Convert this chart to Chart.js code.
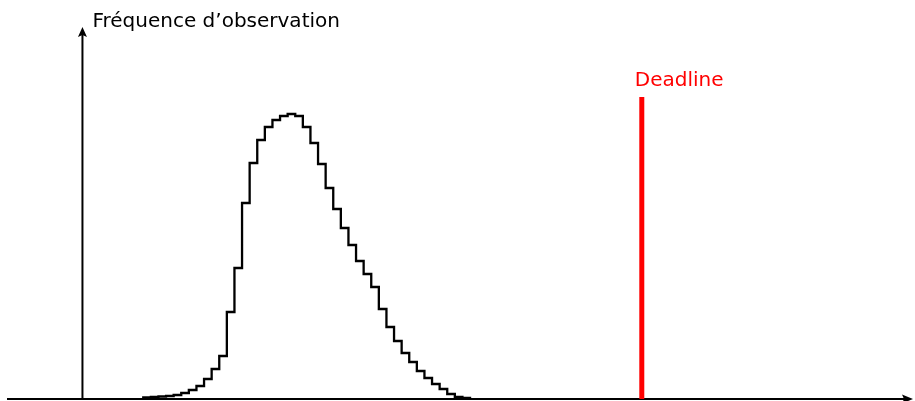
<!DOCTYPE html>
<html>
<head>
<meta charset="utf-8">
<title>Deadline</title>
<script src="https://cdn.jsdelivr.net/npm/chart.js@4.4.1/dist/chart.umd.min.js"></script>
<style>
  html, body { margin: 0; padding: 0; background: #fff; }
  #wrap { width: 915px; height: 401px; }
</style>
</head>
<body>
<div id="wrap"><canvas id="mycanvas"></canvas></div>
<script>
// histogram: bins of width 1, first bin starts at binStart
var binStart = 8;
var freq = [1.5, 2, 2.5, 3, 4, 6, 9, 13, 20, 30, 43, 87, 131, 196, 236, 259, 272, 279, 283, 285,
            283, 272, 256, 235, 211, 190, 171, 154, 138, 125, 112, 90, 72, 58, 46, 37, 28, 21, 15, 10,
            5, 2, 1];
var deadline = 73.6;
var deadlineHeight = 302;
var yLabel = "Fréquence d’observation";
var deadlineLabel = "Deadline";

var xMin = -10.85, xMax = 109.55;
var yMax = 399;

var histPoints = [{x: binStart, y: 0}];
for (var i = 0; i < freq.length; i++) {
	histPoints.push({x: binStart + i, y: freq[i]});
}
histPoints.push({x: binStart + freq.length, y: 0});

var deadlinePoints = [{x: deadline, y: 0}, {x: deadline, y: deadlineHeight}];

function arrowHead(ctx, x, y, dir) {
	// dir: 'up' or 'right'
	ctx.beginPath();
	if (dir == 'up') {
		ctx.moveTo(x, y);
		ctx.lineTo(x - 4.5, y + 10);
		ctx.lineTo(x, y + 8);
		ctx.lineTo(x + 4.5, y + 10);
	} else {
		ctx.moveTo(x, y);
		ctx.lineTo(x - 11, y - 4.5);
		ctx.lineTo(x - 9, y);
		ctx.lineTo(x - 11, y + 4.5);
	}
	ctx.closePath();
	ctx.fill();
}

var axesPlugin = {
	id: 'axes',
	beforeDatasetsDraw: function(chart) {
		var ctx = chart.ctx;
		var xs = chart.scales.x, ys = chart.scales.y;
		var x0 = xs.getPixelForValue(0);
		var y0 = ys.getPixelForValue(0);
		ctx.save();
		ctx.strokeStyle = '#000';
		ctx.fillStyle = '#000';
		ctx.lineWidth = 2;
		// x axis
		ctx.beginPath();
		ctx.moveTo(7, y0);
		ctx.lineTo(chart.chartArea.right - 8, y0);
		ctx.stroke();
		arrowHead(ctx, chart.chartArea.right - 2, y0, 'right');
		// y axis
		ctx.beginPath();
		ctx.moveTo(x0, y0);
		ctx.lineTo(x0, 34);
		ctx.stroke();
		arrowHead(ctx, x0, 27, 'up');
		ctx.restore();
	},
	afterDatasetsDraw: function(chart) {
		var ctx = chart.ctx;
		var xs = chart.scales.x, ys = chart.scales.y;
		ctx.save();
		ctx.textBaseline = 'alphabetic';
		ctx.textAlign = 'left';
		ctx.fillStyle = '#000';
		ctx.font = '20px "DejaVu Sans"';
		ctx.fillText(yLabel, xs.getPixelForValue(0) + 10, 27);
		ctx.fillStyle = '#ff0000';
		ctx.fillText(deadlineLabel, xs.getPixelForValue(deadline) - 7, ys.getPixelForValue(deadlineHeight) - 11);
		ctx.restore();
	}
};

var ctx = document.getElementById('mycanvas');
var chart = new Chart(ctx, {
	type: 'line',
	data: {
		datasets: [
			{
				label: 'Fréquence',
				data: histPoints,
				stepped: true,
				borderColor: '#000',
				borderWidth: 2.3,
				pointRadius: 0,
				fill: false
			},
			{
				label: 'Deadline',
				data: deadlinePoints,
				borderColor: '#ff0000',
				borderWidth: 5,
				borderCapStyle: 'butt',
				pointRadius: 0,
				fill: false
			}
		]
	},
	options: {
		responsive: true,
		maintainAspectRatio: false,
		animation: false,
		layout: { padding: { top: 0, bottom: 2, left: 0, right: 0 } },
		plugins: { legend: { display: false }, tooltip: { enabled: false } },
		scales: {
			x: { type: 'linear', min: xMin, max: xMax, display: false },
			y: { type: 'linear', min: 0, max: yMax, display: false }
		}
	},
	plugins: [axesPlugin]
});
</script>
</body>
</html>
